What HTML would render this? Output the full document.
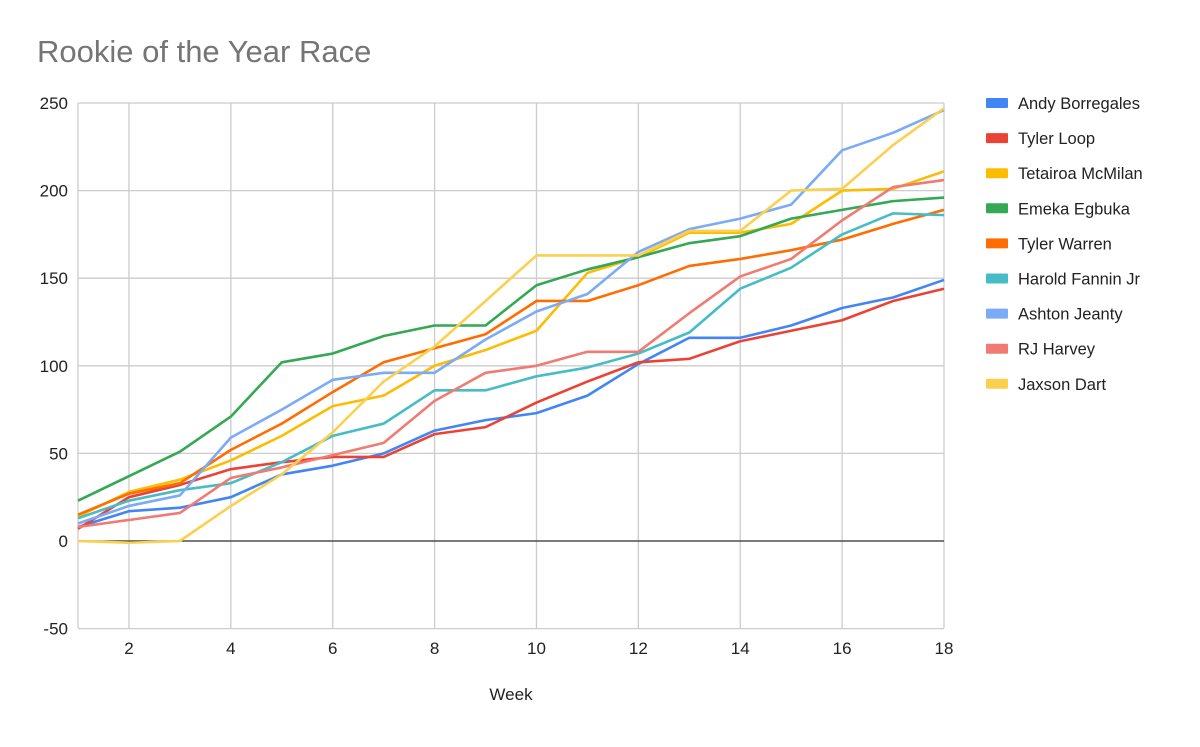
<!DOCTYPE html>
<html><head><meta charset="utf-8"><style>
body{margin:0;background:#fff;}
svg text{font-family:"Liberation Sans",Arial,sans-serif;}
</style></head><body>
<svg id="c" width="1200" height="742" xmlns="http://www.w3.org/2000/svg">
<rect width="1200" height="742" fill="#fff"/>
<text x="37" y="62" font-size="31" fill="#757575">Rookie of the Year Race</text>
<g id="grid"></g>
<g id="lines"></g>
<g id="leg"></g>
<text x="511" y="700" font-size="17" fill="#222" text-anchor="middle">Week</text>
</svg>
<script>
const NS="http://www.w3.org/2000/svg";
const X=w=>78+(w-1)*(866/17), Y=v=>541-v*1.752;
const g=document.getElementById('grid');
function el(p,tag,a,t){const e=document.createElementNS(NS,tag);for(const k in a)e.setAttribute(k,a[k]);if(t!==undefined)e.textContent=t;p.appendChild(e);return e;}
for(let v=-50;v<=250;v+=50){el(g,'line',{x1:78,x2:944,y1:Y(v),y2:Y(v),stroke:'#cccccc','stroke-width':1.3});
el(g,'text',{x:68,y:Y(v)+6,'font-size':17,fill:'#222','text-anchor':'end'},v);}
for(let w=2;w<=18;w+=2){el(g,'line',{x1:X(w),x2:X(w),y1:103,y2:628,stroke:'#cccccc','stroke-width':1.3});
el(g,'text',{x:X(w),y:654,'font-size':17,fill:'#222','text-anchor':'middle'},w);}
el(g,'line',{x1:78,x2:78,y1:103,y2:628,stroke:'#cccccc','stroke-width':1.3});
el(g,'line',{x1:78,x2:944,y1:Y(0),y2:Y(0),stroke:'#333','stroke-width':1.3});
const S=[
["Andy Borregales","#4285f4",[8,17,19,25,38,43,50,63,69,73,83,101,116,116,123,133,139,149]],
["Tyler Loop","#ea4335",[7,25,32,41,45,48,48,61,65,79,91,102,104,114,120,126,137,144]],
["Tetairoa McMilan","#fbbc04",[14,28,35,46,60,77,83,100,109,120,153,162,176,176,181,200,201,211]],
["Emeka Egbuka","#34a853",[23,37,51,71,102,107,117,123,123,146,155,162,170,174,184,189,194,196]],
["Tyler Warren","#ff6d01",[15,27,33,52,67,85,102,110,118,137,137,146,157,161,166,172,181,189]],
["Harold Fannin Jr","#46bdc6",[13,23,29,33,45,60,67,86,86,94,99,107,119,144,156,175,187,186]],
["Ashton Jeanty","#7baaf7",[10,20,26,59,75,92,96,96,115,131,141,165,178,184,192,223,233,246]],
["RJ Harvey","#f07b72",[8,12,16,36,42,49,56,80,96,100,108,108,130,151,161,183,202,206]],
["Jaxson Dart","#fcd04f",[0,-1,0,20,38,62,91,111,137,163,163,163,177,177,200,201,226,247]]];
const L=document.getElementById('lines'),G=document.getElementById('leg');
S.forEach((s,i)=>{
el(L,'polyline',{points:s[2].map((v,j)=>X(j+1)+','+Y(v)).join(' '),fill:'none',stroke:s[1],'stroke-width':2.6,'stroke-linejoin':'round'});
const y=103+i*35.1;
el(G,'rect',{x:986,y:y-5,width:22,height:10,fill:s[1],rx:1});
el(G,'text',{x:1018,y:y+6,'font-size':16.5,fill:'#222'},s[0]);
});
</script>
</body></html>
